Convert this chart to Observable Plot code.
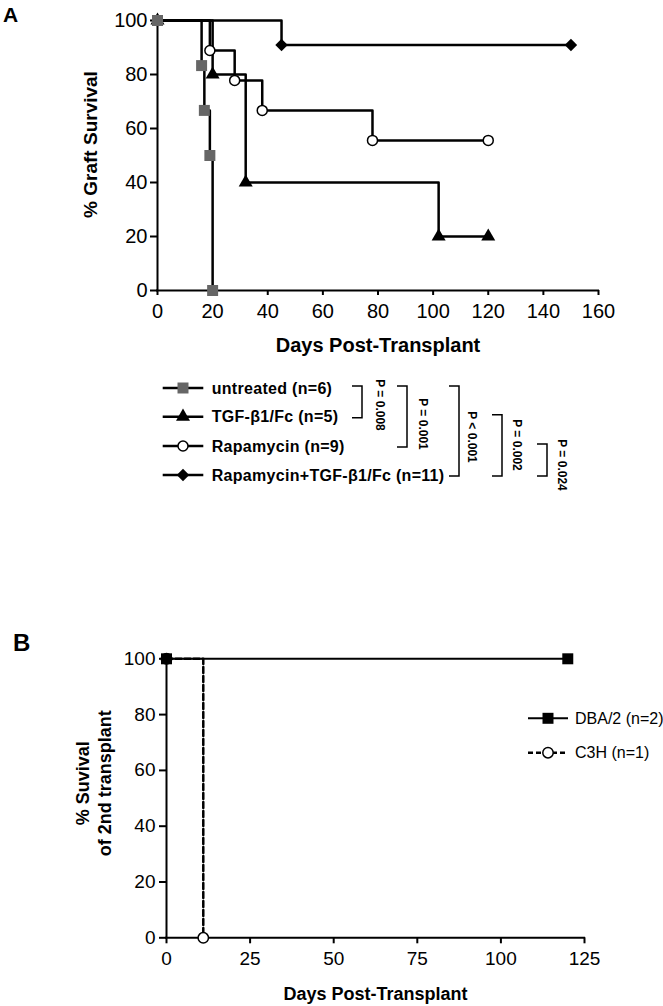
<!DOCTYPE html>
<html><head><meta charset="utf-8">
<script src="https://cdn.jsdelivr.net/npm/d3@7"></script>
<script src="https://cdn.jsdelivr.net/npm/@observablehq/plot@0.6"></script>
<style>
body{margin:0;background:#fff;}
#root{position:relative;width:663px;height:1006px;overflow:hidden;font-family:"Liberation Sans",Arial,sans-serif;background:#fff;}
#root > svg{position:absolute;left:0;}
</style></head><body><div id="root"></div>
<script>
// ---------- Panel A data ----------
const seriesA = ["untreated (n=6)", "TGF-β1/Fc (n=5)", "Rapamycin (n=9)", "Rapamycin+TGF-β1/Fc (n=11)"];
const untreatedDays = [0, 16, 17, 19, 20];
const untreatedSurv = [100, 83.3, 66.7, 50, 0];
const tgfDays = [0, 20, 32, 102, 120];
const tgfSurv = [100, 80, 40, 20, 20];
const rapaDays = [0, 19, 28, 38, 78, 120];
const rapaSurv = [100, 88.9, 77.8, 66.7, 55.6, 55.6];
const comboDays = [0, 45, 150];
const comboSurv = [100, 90.9, 90.9];
const xTicksA = [0, 20, 40, 60, 80, 100, 120, 140, 160];
const yTicksA = [0, 20, 40, 60, 80, 100];
const pPairs = [[0, 1], [0, 2], [0, 3], [1, 3], [2, 3]];
const pLabels = ["P = 0.008", "P = 0.001", "P < 0.001", "P = 0.002", "P = 0.024"];

// ---------- Panel B data ----------
const seriesB = ["DBA/2 (n=2)", "C3H (n=1)"];
const dbaDays = [0, 120];
const dbaSurv = [100, 100];
const c3hDays = [0, 11];
const c3hSurv = [100, 0];
const xTicksB = [0, 25, 50, 75, 100, 125];
const yTicksB = [0, 20, 40, 60, 80, 100];

// ---------- styles ----------
const FONT = '"Liberation Sans", Arial, Helvetica, sans-serif';
const styleA = [
  {symbol: "square", r: 6.2, fill: "#666666", stroke: "none", strokeWidth: 0},
  {symbol: "triangle", r: 5.2, fill: "#000", stroke: "none", strokeWidth: 0},
  {symbol: "circle", r: 5, fill: "#fff", stroke: "#000", strokeWidth: 1.5},
  {symbol: "diamond2", r: 5.6, fill: "#000", stroke: "none", strokeWidth: 0}
];
const styleB = [
  {symbol: "square", r: 6.2, fill: "#000", stroke: "none", strokeWidth: 0, dash: null, lw: 2},
  {symbol: "circle", r: 5.2, fill: "#fff", stroke: "#000", strokeWidth: 1.5, dash: "6,3", lw: 2.5}
];

const rows = (name, days, surv) => days.map((d, i) => ({series: name, day: d, surv: surv[i]}));
const dataA = [
  rows(seriesA[0], untreatedDays, untreatedSurv),
  rows(seriesA[1], tgfDays, tgfSurv),
  rows(seriesA[2], rapaDays, rapaSurv),
  rows(seriesA[3], comboDays, comboSurv)
];
const drawOrderA = [3, 2, 1, 0];

const root = document.getElementById("root");

// ---------- Plot A ----------
const plotA = Plot.plot({
  width: 663, height: 360,
  marginLeft: 157, marginRight: 65, marginTop: 20, marginBottom: 70,
  x: {domain: [0, 160], axis: null, label: null},
  y: {domain: [0, 100], axis: null, label: null},
  style: {fontFamily: FONT, fontSize: "20px", color: "#000", background: "transparent", overflow: "visible"},
  marks: [
    Plot.axisX(xTicksA, {tickSize: 5, tickPadding: 8, strokeWidth: 2, label: null, fontSize: 20}),
    Plot.axisY(yTicksA, {tickSize: 7, tickPadding: 3, strokeWidth: 2, label: null, fontSize: 20}),
    Plot.ruleY([0], {strokeWidth: 2, strokeLinecap: "square"}),
    Plot.ruleX([0], {strokeWidth: 2, strokeLinecap: "square"}),
    ...drawOrderA.map(i => Plot.line(dataA[i], {x: "day", y: "surv", curve: "step-after", stroke: "#000", strokeWidth: 2.5})),
    ...drawOrderA.map(i => Plot.dot(dataA[i], {x: "day", y: "surv", symbol: styleA[i].symbol, r: styleA[i].r, fill: styleA[i].fill, stroke: styleA[i].stroke, strokeWidth: styleA[i].strokeWidth})),
    Plot.text(["Days Post-Transplant"], {frameAnchor: "bottom", lineAnchor: "middle", textAnchor: "middle", dy: 55, fontWeight: "bold", fontSize: 20}),
    Plot.text(["% Graft Survival"], {frameAnchor: "left", lineAnchor: "middle", textAnchor: "middle", rotate: -90, dx: -67, dy: -11, fontWeight: "bold", fontSize: 19})
  ]
});
plotA.style.top = "0px";
root.appendChild(plotA);

// ---------- Plot B ----------
const dataB = [rows(seriesB[0], dbaDays, dbaSurv), rows(seriesB[1], c3hDays, c3hSurv)];
const drawOrderB = [1, 0];
const plotB = Plot.plot({
  width: 663, height: 406,
  marginLeft: 166, marginRight: 79, marginTop: 58.3, marginBottom: 68.7,
  x: {domain: [0, 125], axis: null, label: null},
  y: {domain: [0, 100], axis: null, label: null},
  style: {fontFamily: FONT, fontSize: "19px", color: "#000", background: "transparent", overflow: "visible"},
  marks: [
    Plot.axisX(xTicksB, {tickSize: 6, tickPadding: 8, strokeWidth: 2, label: null, fontSize: 19}),
    Plot.axisY(yTicksB, {tickSize: 7, tickPadding: 4, strokeWidth: 2, label: null, fontSize: 19}),
    Plot.ruleY([0], {strokeWidth: 2, strokeLinecap: "square"}),
    Plot.ruleX([0], {strokeWidth: 2, strokeLinecap: "square"}),
    ...drawOrderB.map(i => Plot.line(dataB[i], {x: "day", y: "surv", curve: "step-after", stroke: "#000", strokeWidth: styleB[i].lw, strokeDasharray: styleB[i].dash})),
    ...drawOrderB.map(i => Plot.dot(dataB[i], {x: "day", y: "surv", symbol: styleB[i].symbol, r: styleB[i].r, fill: styleB[i].fill, stroke: styleB[i].stroke, strokeWidth: styleB[i].strokeWidth})),
    Plot.text(["Days Post-Transplant"], {frameAnchor: "bottom", lineAnchor: "middle", textAnchor: "middle", dy: 56, fontWeight: "bold", fontSize: 18}),
    Plot.text(["% Suvival\nof 2nd transplant"], {frameAnchor: "left", lineAnchor: "middle", textAnchor: "middle", rotate: -90, dx: -73.5, dy: -15, lineHeight: 1.2, fontWeight: "bold", fontSize: 18})
  ]
});
plotB.style.top = "600px";
root.appendChild(plotB);

// ---------- Overlay: panel letters, legends, brackets ----------
const svg = d3.select(root).append("svg")
  .attr("width", 663).attr("height", 1006)
  .style("top", "0px").style("pointer-events", "none")
  .style("font-family", FONT);

svg.append("text").attr("x", 3).attr("y", 22).attr("font-size", 21).attr("font-weight", "bold").text("A");
svg.append("text").attr("x", 13).attr("y", 651).attr("font-size", 24).attr("font-weight", "bold").text("B");

const symbolOf = name => ({square: d3.symbolSquare, triangle: d3.symbolTriangle, circle: d3.symbolCircle, diamond2: d3.symbolDiamond2})[name];

// Legend A
const legARows = [388, 416.7, 446, 475];
const legA = svg.append("g");
seriesA.forEach((name, i) => {
  const y = legARows[i], s = styleA[i];
  legA.append("line").attr("x1", 162.7).attr("x2", 203.3).attr("y1", y).attr("y2", y).attr("stroke", "#000").attr("stroke-width", 2.5);
  legA.append("path").attr("transform", `translate(183,${y})`)
    .attr("d", d3.symbol(symbolOf(s.symbol), s.r * s.r * Math.PI)())
    .attr("fill", s.fill).attr("stroke", s.stroke).attr("stroke-width", s.strokeWidth);
  legA.append("text").attr("x", 211.7).attr("y", y).attr("dy", "0.36em")
    .attr("font-size", 16).attr("font-weight", "bold").attr("letter-spacing", "0.3px").text(name);
});

// Brackets with P values
const bracketX = [362, 407, 459, 502, 547];
const pTextX = [380, 423, 472, 517, 562];
const pTextY = [405, 424, 437, 445, 465];
pPairs.forEach(([a, b], k) => {
  const x = bracketX[k], y1 = legARows[a] - 2, y2 = legARows[b] + 1;
  legA.append("path").attr("d", `M${x - 10},${y1}H${x}V${y2}H${x - 10}`)
    .attr("fill", "none").attr("stroke", "#000").attr("stroke-width", 1.5);
  legA.append("text").attr("transform", `translate(${pTextX[k]},${pTextY[k]}) rotate(90)`)
    .attr("text-anchor", "middle").attr("dy", "0.35em")
    .attr("font-size", 12).attr("font-weight", "bold").text(pLabels[k]);
});

// Legend B
const legBRows = [718.3, 752.7];
const legB = svg.append("g");
seriesB.forEach((name, i) => {
  const y = legBRows[i], s = styleB[i];
  legB.append("line").attr("x1", 528).attr("x2", 568).attr("y1", y).attr("y2", y)
    .attr("stroke", "#000").attr("stroke-width", s.lw).attr("stroke-dasharray", s.dash ? "5,3" : null);
  legB.append("path").attr("transform", `translate(548,${y})`)
    .attr("d", d3.symbol(symbolOf(s.symbol), s.r * s.r * Math.PI)())
    .attr("fill", s.fill).attr("stroke", s.stroke).attr("stroke-width", s.strokeWidth);
  legB.append("text").attr("x", 575).attr("y", y).attr("dy", "0.36em")
    .attr("font-size", 16).text(name);
});
</script></body></html>
